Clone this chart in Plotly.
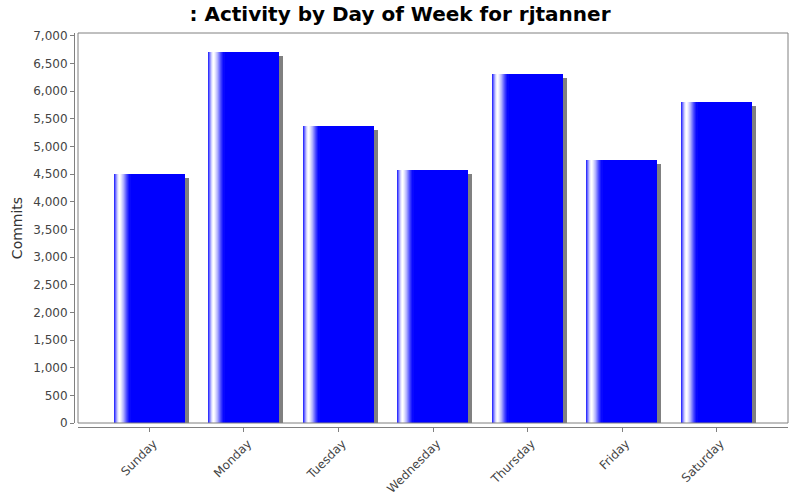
import plotly.graph_objects as go

days = ["Sunday", "Monday", "Tuesday", "Wednesday", "Thursday", "Friday", "Saturday"]
commits = [4510, 6710, 5380, 4580, 6320, 4760, 5800]
y_ticks = list(range(0, 7001, 500))
y_tick_labels = [f"{v:,}" for v in y_ticks]

title_text = ": Activity by Day of Week for rjtanner"
y_title = "Commits"

# geometry (style)
PLOT_W = 710.0
X_RANGE = [-0.756, 6.756]
CAT_PX = PLOT_W / (X_RANGE[1] - X_RANGE[0])
PX = 1.0 / CAT_PX
BAR_W = 0.75
Y_MAX = 7054
Y_PX = Y_MAX / 390.0

fig = go.Figure()

# shadow
fig.add_trace(go.Bar(
    x=days, y=[v - 4 * Y_PX for v in commits],
    width=BAR_W, offset=-BAR_W / 2 + 4 * PX,
    marker=dict(color="#808080", line=dict(width=0)),
    hoverinfo="skip", showlegend=False,
))
# main bars
fig.add_trace(go.Bar(
    x=days, y=commits,
    width=BAR_W, offset=-BAR_W / 2,
    marker=dict(color="#0000ff", line=dict(width=0)),
    showlegend=False,
))
# gradient highlight stripes
stripe_colors = ["#3030ff", "#6a6aff", "#a0a0ff", "#d0d0ff", "#f0f0ff", "#ffffff",
                 "#f4f4ff", "#e0e0ff", "#c8c8ff", "#b0b0ff", "#9090ff", "#7070ff",
                 "#5050ff", "#3535ff", "#1c1cff", "#0808ff"]
for i, c in enumerate(stripe_colors):
    fig.add_trace(go.Bar(
        x=days, y=commits,
        width=PX * 1.1, offset=-BAR_W / 2 + i * PX,
        marker=dict(color=c, line=dict(width=0)),
        hoverinfo="skip", showlegend=False,
    ))

fig.update_layout(
    width=800, height=500,
    barmode="overlay",
    bargap=0,
    plot_bgcolor="white", paper_bgcolor="white",
    margin=dict(l=74, r=12, t=33, b=73, autoexpand=False),
    font=dict(family="DejaVu Sans", size=12, color="#444444"),
    title=dict(text=title_text, x=0.5, xanchor="center", y=0.972, yanchor="middle",
               font=dict(family="DejaVu Sans", size=20, color="#000000", weight="bold")),
    xaxis=dict(
        domain=[4 / 714, 1], range=X_RANGE, anchor="free", position=0,
        showline=True, linecolor="#808080", linewidth=1,
        ticks="outside", ticklen=4, tickcolor="#808080",
        tickangle=-45, showgrid=False, zeroline=False, automargin=False,
        ticklabelshift=4,
        tickfont=dict(family="DejaVu Sans", size=12, color="#444444"),
    ),
    yaxis=dict(
        domain=[4 / 394, 1], range=[0, Y_MAX], anchor="free", position=0,
        showline=True, linecolor="#808080", linewidth=1,
        ticks="outside", ticklen=4, tickcolor="#808080",
        tickvals=y_ticks, ticktext=y_tick_labels,
        showgrid=False, zeroline=False, automargin=False,
        title=dict(text=y_title, font=dict(family="DejaVu Sans", size=14, color="#333333"), standoff=6),
        tickfont=dict(family="DejaVu Sans", size=12, color="#444444"),
    ),
    shapes=[dict(type="rect", xref="x domain", yref="y domain", x0=0, x1=1, y0=0, y1=1,
                 line=dict(color="#808080", width=1), fillcolor="rgba(0,0,0,0)", layer="above")],
)

fig.write_html("out.html", config={"displayModeBar": False},
               post_script="document.body.style.margin='0';")
